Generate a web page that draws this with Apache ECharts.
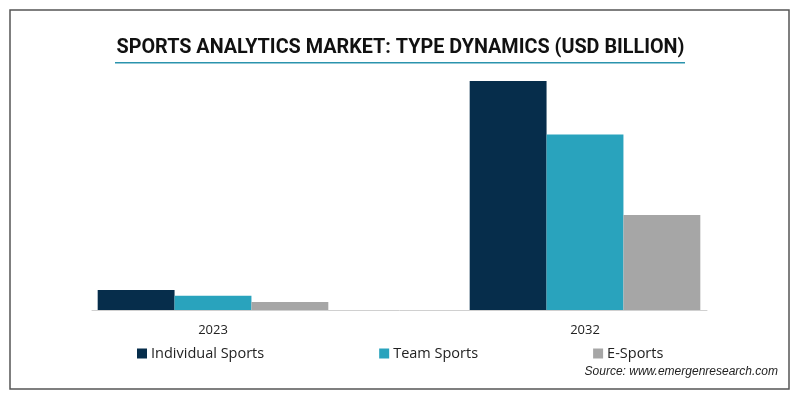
<!DOCTYPE html>
<html><head><meta charset="utf-8">
<script src="https://cdn.jsdelivr.net/npm/echarts@6/dist/echarts.min.js"></script>
<style>html,body{margin:0;padding:0;background:#fff}#c{width:801px;height:401px}</style>
</head><body><div id="c"></div>
<script>
const categories = ['2023', '2032'];
const individualSports = [2.0, 22.9];
const teamSports = [1.43, 17.55];
const eSports = [0.8, 9.5];
const seriesNames = ['Individual Sports', 'Team Sports', 'E-Sports'];
const titleText = 'SPORTS ANALYTICS MARKET: TYPE DYNAMICS (USD BILLION)';
const sourceText = 'Source: www.emergenresearch.com';

const colors = ['#062d4b', '#29a3bd', '#a6a6a6'];
const chart = echarts.init(document.getElementById('c'), null, {renderer: 'canvas'});
const mk = (name, data, i) => ({
  name, type: 'bar', data, xAxisIndex: 0, yAxisIndex: 0,
  barGap: 0, barCategoryGap: '38%',
  itemStyle: {color: colors[i]}, emphasis: {disabled: true}
});
chart.setOption({
  animation: false,
  color: colors,
  title: {
    text: titleText, left: 'center', top: 33,
    textStyle: {fontFamily: 'Roboto', fontWeight: 'bold', fontSize: 19.8, color: '#111'}
  },
  legend: {
    left: 137, top: 346, padding: 0, itemGap: 115, itemWidth: 10, itemHeight: 10, icon: 'rect',
    data: seriesNames,
    textStyle: {fontFamily: 'Open Sans', fontSize: 14.5, color: '#222', padding: [0, 0, 0, -1]}
  },
  grid: [
    {left: 27, right: 30, top: 60, bottom: 91, containLabel: false},
    {left: 92, right: 94, top: 60, bottom: 91, containLabel: false}
  ],
  xAxis: [
    {type: 'category', data: categories, gridIndex: 0,
     axisLine: {show: false}, axisTick: {show: false},
     axisLabel: {fontFamily: 'Open Sans', fontSize: 13, color: '#222', margin: 14}},
    {type: 'category', data: [], gridIndex: 1,
     axisLine: {show: true, lineStyle: {color: '#d0d0d0', width: 1}}, axisTick: {show: false},
     axisLabel: {show: false}}
  ],
  yAxis: [
    {type: 'value', min: 0, max: 25, gridIndex: 0, show: false},
    {type: 'value', min: 0, max: 25, gridIndex: 1, show: false}
  ],
  graphic: [
    {type: 'rect', shape: {x: 10, y: 10, width: 779, height: 379},
     style: {fill: 'none', stroke: '#555', lineWidth: 1.5}, silent: true},
    {type: 'rect', shape: {x: 115, y: 62, width: 570, height: 1.5},
     style: {fill: '#2b93ad'}, silent: true},
    {type: 'text', right: 801 - 778, top: 366,
     style: {text: sourceText, font: 'italic 12px "Liberation Sans"', fill: '#222'}}
  ],
  series: [
    mk(seriesNames[0], individualSports, 0),
    mk(seriesNames[1], teamSports, 1),
    mk(seriesNames[2], eSports, 2)
  ]
});
</script></body></html>
